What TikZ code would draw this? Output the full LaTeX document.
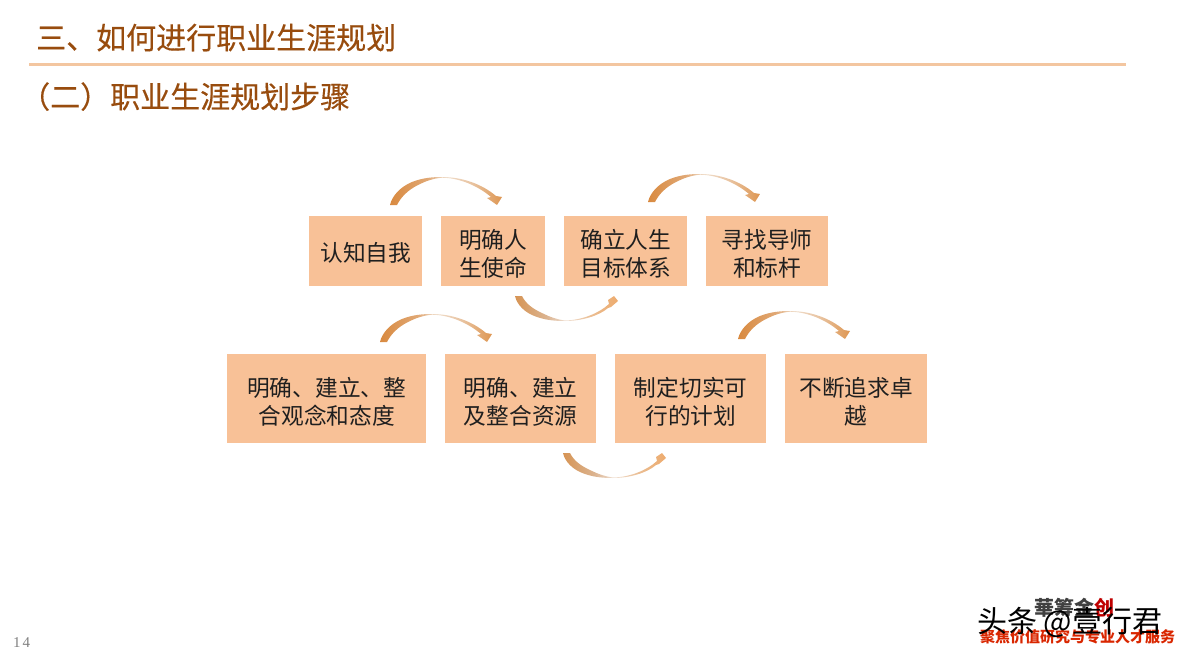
\documentclass[tikz,border=0pt]{standalone}
\usepackage{fontspec}
\setmainfont{Noto Sans CJK SC}
\newfontfamily\serifnum{Liberation Serif}
\newfontfamily\titlefont[FakeBold=0.35]{Noto Sans CJK SC}
\newcommand{\lineup}[1]{\rule{0pt}{#1pt}}
\definecolor{titlec}{HTML}{984C0E}
\definecolor{boxc}{HTML}{F8C197}
\definecolor{rulec}{HTML}{F3C6A0}
\pgfdeclarehorizontalshading{arcupsh}{100bp}{
  rgb(0bp)=(0.85,0.54,0.25);
  rgb(25bp)=(0.85,0.54,0.25);
  rgb(42bp)=(0.88,0.66,0.46);
  rgb(50bp)=(0.94,0.87,0.80);
  rgb(62bp)=(0.91,0.76,0.62);
  rgb(75bp)=(0.87,0.59,0.32);
  rgb(100bp)=(0.87,0.57,0.29)}
\pgfdeclarehorizontalshading{arcdownsh}{100bp}{
  rgb(0bp)=(0.84,0.58,0.33);
  rgb(25bp)=(0.84,0.58,0.33);
  rgb(40bp)=(0.86,0.70,0.56);
  rgb(50bp)=(0.94,0.88,0.83);
  rgb(62bp)=(0.92,0.74,0.57);
  rgb(75bp)=(0.93,0.67,0.43);
  rgb(100bp)=(0.93,0.66,0.41)}
\tikzset{
  x=1pt,y=-1pt,
  stepbox/.style={fill=boxc,draw=none,anchor=north west,inner sep=0pt,align=center,text=black!88,font=\fontsize{22.7}{28}\selectfont},
  titletext/.style={anchor=base west,inner sep=0pt,text=titlec,font=\titlefont\fontsize{30}{34}\selectfont},
  uparc/.pic={
    \shade[shading=arcupsh]
      (0,0) .. controls (2,-9) and (10,-18) .. (22,-23) .. controls (32,-27) and (42,-28) .. (52,-28)
      .. controls (72,-28) and (92,-21) .. (106,-9)
      -- (112,-8) -- (107,0) -- (97,-7) -- (101,-8)
      .. controls (88,-19) and (70,-27) .. (52,-27.3) .. controls (43,-26.5) and (36,-24) .. (28,-20)
      .. controls (18,-15) and (11,-8) .. (7,0) -- cycle;
  },
  downarc/.pic={
    \shade[shading=arcdownsh]
      (0,0) .. controls (2,9) and (10,17) .. (22,21) .. controls (32,24.5) and (42,25) .. (50,25)
      .. controls (66,25) and (84,20) .. (93,12)
      -- (96,11) -- (103,5) -- (99,0) -- (93,4) -- (94,8)
      .. controls (84,17) and (68,24) .. (50,24.5) .. controls (42,23.5) and (35,21) .. (28,17.5)
      .. controls (18,13) and (11,8) .. (7,0) -- cycle;
  }
}
\begin{document}
\begin{tikzpicture}
\useasboundingbox (0,0) rectangle (1183,658);
\node[titletext] (t1) at (36,49) {三、如何进行职业生涯规划};
\coordinate (ruleL) at (29,65);
\coordinate (ruleR) at (1126,65);
\draw[rulec,line width=3pt] (ruleL) -- (ruleR);
\node[titletext] (t2) at (20,108) {（二）职业生涯规划步骤};

\node[stepbox,minimum width=113pt,minimum height=70pt] (a1) at (309,216) {\lineup{22}认知自我};
\node[stepbox,minimum width=104pt,minimum height=70pt] (a2) at (441,216) {\lineup{25}明确人\\生使命};
\node[stepbox,minimum width=123pt,minimum height=70pt] (a3) at (564,216) {\lineup{25}确立人生\\目标体系};
\node[stepbox,minimum width=122pt,minimum height=70pt] (a4) at (706,216) {\lineup{25}寻找导师\\和标杆};
\node[stepbox,minimum width=199pt,minimum height=89pt] (b1) at (227,354) {\lineup{25}明确、建立、整\\合观念和态度};
\node[stepbox,minimum width=151pt,minimum height=89pt] (b2) at (445,354) {\lineup{25}明确、建立\\及整合资源};
\node[stepbox,minimum width=151pt,minimum height=89pt] (b3) at (615,354) {\lineup{25}制定切实可\\行的计划};
\node[stepbox,minimum width=142pt,minimum height=89pt] (b4) at (785,354) {\lineup{25}不断追求卓\\越};

\pic at (390,205) {uparc};
\pic at (648,202) {uparc};
\pic at (380,342) {uparc};
\pic at (738,339) {uparc};
\pic at (515,296) {downarc};
\pic at (563,453) {downarc};

\node[anchor=base west,inner sep=0pt,text=black!50,font=\serifnum\fontsize{15}{17}\selectfont] (pg) at (13,647) {1\kern2pt 4};
\node[anchor=base west,inner sep=0pt,text=black!75,font=\bfseries\fontsize{20}{22}\selectfont] (w1) at (1034,615) {華筹金\textcolor{red!75!black}{创}};
\node[anchor=base west,inner sep=0pt,text=red!65!orange!85!black,font=\bfseries\fontsize{15}{17}\selectfont] (w2) at (980,642) {聚焦价值研究与专业人才服务};
\node[anchor=base west,inner sep=0pt,text=black,font=\fontsize{30}{32}\selectfont] (w3) at (977,632) {头条 @壹行君};
\end{tikzpicture}
\end{document}
